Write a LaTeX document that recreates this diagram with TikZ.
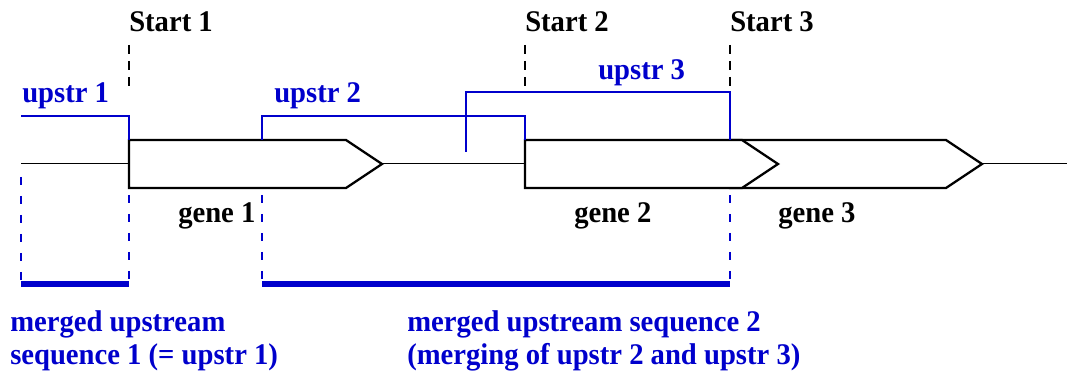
\documentclass[tikz,border=0pt]{standalone}
\usepackage{fontspec}
\setmainfont{Liberation Serif}[FakeStretch=0.955]
\definecolor{upblue}{RGB}{0,0,204}

\begin{document}
\begin{tikzpicture}[
			x=0.75pt, y=-0.75pt,
			every node/.style={font=\fontsize{22.5}{27}\selectfont\bfseries, inner sep=0pt, anchor=base west},
			genebox/.style={draw, fill=white, line width=1.7pt, line join=miter},
			startline/.style={draw, line width=1.6pt, dash pattern=on 6.75pt off 5.25pt},
			upline/.style={draw=upblue, line width=1.7pt},
			guideline/.style={draw=upblue, line width=0.9pt, dash pattern=on 6pt off 8.25pt},
			mergebar/.style={draw=upblue, line width=4.5pt},
			uplabel/.style={text=upblue}
			]
			\useasboundingbox (0,0) rectangle (1067,373);
			% sequence
			\draw[line width=0.75pt] (21,164) -- (1067,164);
			% genes (gene 3 below gene 2)
			\draw[genebox] (730,140) -- (946,140) -- (982,164) -- (946,188) -- (730,188) -- cycle;
			\draw[genebox] (129,140) -- (346,140) -- (382,164) -- (346,188) -- (129,188) -- cycle;
			\draw[genebox] (525,140) -- (742,140) -- (778,164) -- (742,188) -- (525,188) -- cycle;
			% starts
			\draw[startline] (129,45) -- (129,90);
			\draw[startline] (525,45) -- (525,92);
			\draw[startline] (730,45) -- (730,92);
			% upstream regions
			\draw[upline] (21,116) -- (129,116) -- (129,140);
			\draw[upline] (262,140) -- (262,116) -- (525,116) -- (525,140);
			\draw[upline] (466,152) -- (466,92) -- (730,92) -- (730,140);
			% merged regions
			\draw[guideline] (21,177) -- (21,282);
			\draw[guideline] (129,195) -- (129,282);
			\draw[guideline] (262,195) -- (262,282);
			\draw[guideline] (730,195) -- (730,282);
			\draw[mergebar] (21,284.5) -- (129,284.5);
			\draw[mergebar] (262,284.5) -- (730,284.5);
			% labels
			\node (start1) at (129,32) {Start 1};
			\node (start2) at (525,32) {Start 2};
			\node (start3) at (730,32) {Start 3};
			\node[uplabel] (up1) at (22,103) {upstr 1};
			\node[uplabel] (up2) at (274,103) {upstr 2};
			\node[uplabel] (up3) at (598,80) {upstr 3};
			\node (gene1) at (178,223) {gene 1};
			\node (gene2) at (574,223) {gene 2};
			\node (gene3) at (778,223) {gene 3};
			\node[uplabel] (merge1a) at (10,332) {merged upstream};
			\node[uplabel] (merge1b) at (10,365) {sequence 1 (= upstr 1)};
			\node[uplabel] (merge2a) at (407,332) {merged upstream sequence 2};
			\node[uplabel] (merge2b) at (407,365) {(merging of upstr 2 and upstr 3)};
\end{tikzpicture}
\end{document}
